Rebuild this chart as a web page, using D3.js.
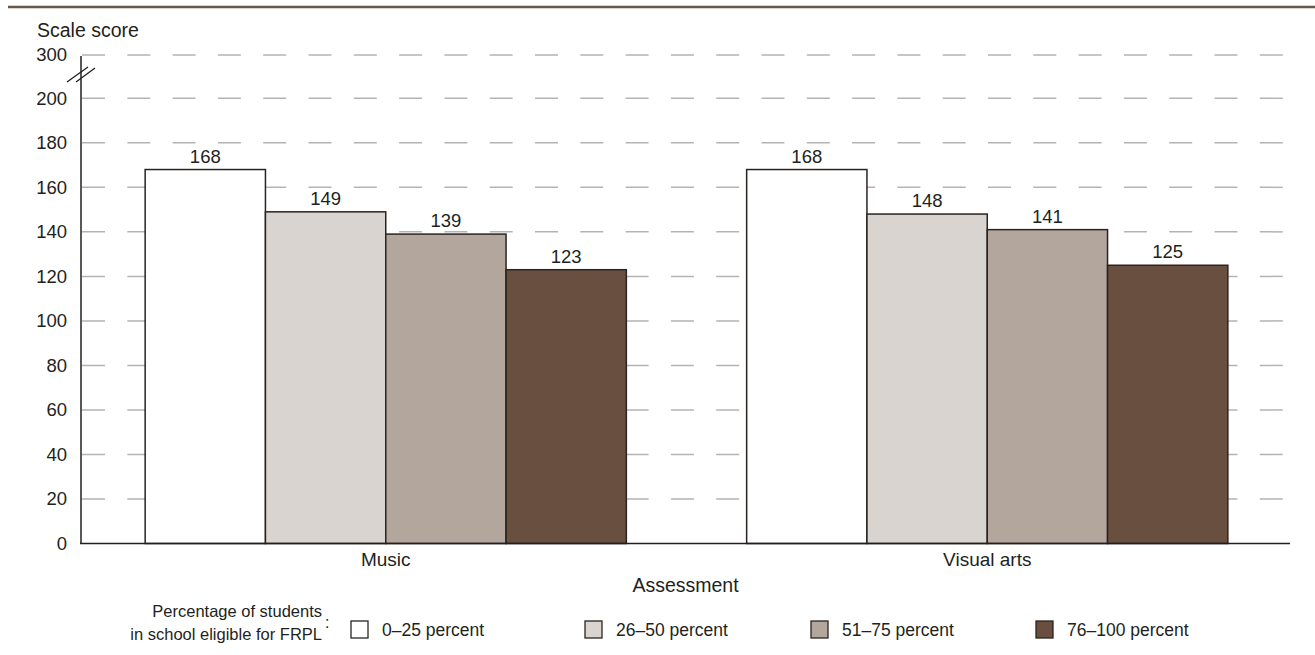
<!DOCTYPE html>
<html><head><meta charset="utf-8">
<script src="https://cdn.jsdelivr.net/npm/d3@7"></script>
<style>
body{margin:0;background:#fff}
text{font-family:"Liberation Sans",Arial,sans-serif;fill:#231f20}
</style>
</head><body>
<svg id="c" width="1315" height="655"></svg>
<script>
// ---- data ----
const categories = ["Music", "Visual arts"];
const seriesNames = ["0–25 percent", "26–50 percent", "51–75 percent", "76–100 percent"];
const values0to25 = [168, 168];
const values26to50 = [149, 148];
const values51to75 = [139, 141];
const values76to100 = [123, 125];
const yTicks = [0, 20, 40, 60, 80, 100, 120, 140, 160, 180, 200, 300];
const seriesColors = ["#ffffff", "#d9d4cf", "#b3a69d", "#684f40"];

const seriesValues = [values0to25, values26to50, values51to75, values76to100];
const rows = categories.map((c, i) => ({
  category: c,
  bars: seriesNames.map((s, j) => ({ series: s, value: seriesValues[j][i], color: seriesColors[j] }))
}));

const svg = d3.select("#c");
const left = 81, right = 1290;
const FONT = '"Liberation Sans",Arial,sans-serif';

// scales (broken axis: 200 -> 300 compressed)
const y = d3.scaleLinear().domain([0, 200, 300]).range([543.5, 98.3, 55]);
const x0 = d3.scaleBand().domain(categories).range([85, 1288]).paddingInner(0.2).paddingOuter(0.1);
const x1 = d3.scaleBand().domain(seriesNames).range([0, x0.bandwidth()]);

// top rule
svg.append("line").attr("x1", 8).attr("x2", 1315).attr("y1", 7).attr("y2", 7)
  .attr("stroke", "#6a5646").attr("stroke-width", 2.5);

// title
svg.append("text").attr("x", 37).attr("y", 37).style("font-size", "19.5px").text("Scale score");

// gridlines
svg.append("g").selectAll("line").data(yTicks.filter(d => d > 0)).join("line")
  .attr("x1", left + 1).attr("x2", 1284)
  .attr("y1", d => y(d)).attr("y2", d => y(d))
  .attr("stroke", "#b4b4b4").attr("stroke-width", 1.5)
  .attr("stroke-dasharray", "23,22.3");

// y axis via d3.axisLeft
const yAxis = d3.axisLeft(y).tickValues(yTicks).tickSize(0).tickPadding(14);
const gy = svg.append("g").attr("transform", `translate(${left},0)`).call(yAxis);
gy.select(".domain").remove();
gy.selectAll("text").style("font-size", "18.5px").style("font-family", FONT).attr("fill", "#231f20");

// bars
const groups = svg.append("g").selectAll("g").data(rows).join("g")
  .attr("transform", d => `translate(${x0(d.category)},0)`);
groups.selectAll("rect").data(d => d.bars).join("rect")
  .attr("x", d => x1(d.series))
  .attr("y", d => y(d.value))
  .attr("width", x1.bandwidth())
  .attr("height", d => y(0) - y(d.value))
  .attr("fill", d => d.color)
  .attr("stroke", "#2a2420").attr("stroke-width", 1.5);
groups.selectAll("text").data(d => d.bars).join("text")
  .attr("x", d => x1(d.series) + x1.bandwidth() / 2)
  .attr("y", d => y(d.value) - 7)
  .attr("text-anchor", "middle").style("font-size", "18.5px")
  .text(d => d.value);

// axis lines
svg.append("line").attr("x1", left).attr("x2", left).attr("y1", y(300) + 1).attr("y2", y(0))
  .attr("stroke", "#231f20").attr("stroke-width", 1.5);
svg.append("line").attr("x1", left - 1).attr("x2", right).attr("y1", y(0)).attr("y2", y(0))
  .attr("stroke", "#231f20").attr("stroke-width", 1.5);

// break marks
const brk = svg.append("g").attr("stroke", "#231f20").attr("stroke-width", 1.3);
brk.append("line").attr("x1", 67).attr("y1", 82).attr("x2", 88).attr("y2", 67);
brk.append("line").attr("x1", 76).attr("y1", 82).attr("x2", 95).attr("y2", 68);

// x axis labels
const xAxis = d3.axisBottom(x0).tickSize(0).tickPadding(9);
const gx = svg.append("g").attr("transform", `translate(0,${y(0)})`).call(xAxis);
gx.select(".domain").remove();
gx.selectAll("text").style("font-size", "19px").style("font-family", FONT).attr("fill", "#231f20");

svg.append("text").attr("x", (left + right) / 2).attr("y", 592).attr("text-anchor", "middle")
  .style("font-size", "19.5px").text("Assessment");

// legend
svg.append("text").attr("x", 322).attr("y", 617).attr("text-anchor", "end").style("font-size", "16.5px").text("Percentage of students");
svg.append("text").attr("x", 322).attr("y", 640).attr("text-anchor", "end").style("font-size", "16.5px").text("in school eligible for FRPL");
svg.append("text").attr("x", 325).attr("y", 628).style("font-size", "16px").text(":");

const legendX = [351, 585, 811, 1036];
const lg = svg.append("g").selectAll("g").data(seriesNames).join("g")
  .attr("transform", (d, i) => `translate(${legendX[i]},621)`);
lg.append("rect").attr("width", 17).attr("height", 17)
  .attr("fill", (d, i) => seriesColors[i]).attr("stroke", "#2a2420").attr("stroke-width", 1.3);
lg.append("text").attr("x", 31).attr("y", 15).style("font-size", "17.5px").text(d => d);
</script>
</body></html>
